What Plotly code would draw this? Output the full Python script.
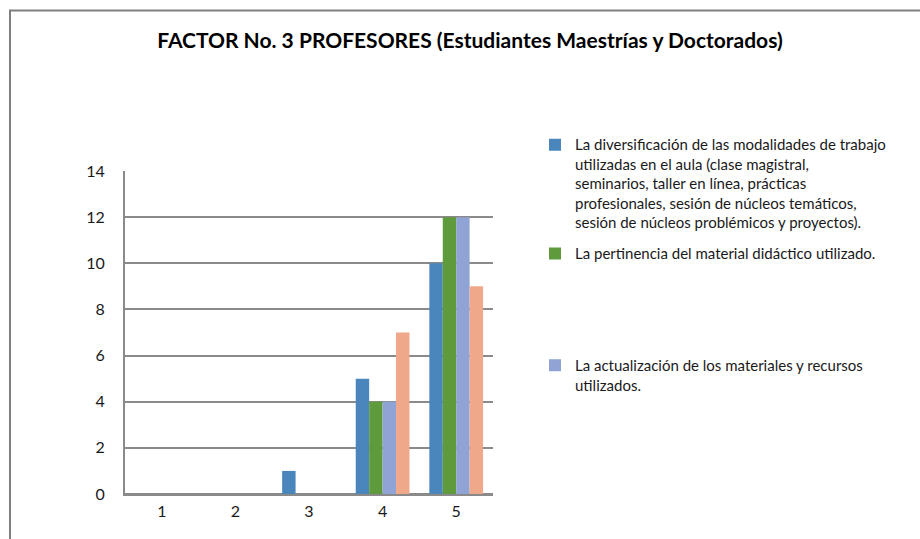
import plotly.graph_objects as go

categories = ["1", "2", "3", "4", "5"]
serie_diversificacion = [0, 0, 1, 5, 10]
serie_pertinencia = [0, 0, 0, 4, 12]
serie_actualizacion = [0, 0, 0, 4, 12]
serie_cuarta = [0, 0, 0, 7, 9]

name1 = ("La diversificación de las modalidades de trabajo<br>"
         "utilizadas en el aula (clase magistral,<br>"
         "seminarios, taller en línea, prácticas<br>"
         "profesionales, sesión de núcleos temáticos,<br>"
         "sesión de núcleos problémicos y proyectos).")
name2 = "La pertinencia del material didáctico utilizado."
name3 = "La actualización de los materiales y recursos<br>utilizados."
name4 = "Serie 4"

colors = ["#4A86BC", "#5F9A3D", "#8FA4D5", "#F0A88A"]

W, H = 920, 539
L, R, T, B = 125, 493, 170.7, 494.3
pw, ph = R - L, B - T

def px_x(x):
    return (x - L) / pw

def px_y(y):
    return (B - y) / ph

fig = go.Figure()
fig.add_trace(go.Bar(x=categories, y=serie_diversificacion, name=name1,
                     marker=dict(color=colors[0]), legend="legend"))
fig.add_trace(go.Bar(x=categories, y=serie_pertinencia, name=name2,
                     marker=dict(color=colors[1]), legend="legend2"))
fig.add_trace(go.Bar(x=categories, y=serie_actualizacion, name=name3,
                     marker=dict(color=colors[2]), legend="legend3"))
fig.add_trace(go.Bar(x=categories, y=serie_cuarta, name=name4, showlegend=False,
                     marker=dict(color=colors[3])))
fig.update_traces(marker_line_width=0)

font_family = "Lato, 'Open Sans', sans-serif"
leg_font = dict(family=font_family, size=15, color="#1a1a1a")

def legend_cfg(px_left, px_top):
    return dict(x=px_x(px_left), y=px_y(px_top), xanchor="left", yanchor="top",
                xref="paper", yref="paper", font=leg_font, valign="top",
                bgcolor="rgba(0,0,0,0)", borderwidth=0)

fig.update_layout(
    width=W, height=H,
    margin=dict(l=L, r=W - R, t=T, b=H - B, pad=0, autoexpand=False),
    paper_bgcolor="white", plot_bgcolor="white",
    barmode="group", bargap=0.27, bargroupgap=0,
    title=dict(text="<b>FACTOR No. 3 PROFESORES (Estudiantes Maestrías y Doctorados)</b>",
               x=470 / W, xanchor="center", xref="container",
               y=1 - 41 / H, yanchor="middle", yref="container",
               font=dict(family=font_family, size=21, color="#000000")),
    legend=legend_cfg(535, 128),
    legend2=legend_cfg(535, 237),
    legend3=legend_cfg(535, 349),
    xaxis=dict(type="category", showgrid=False, showline=True, linecolor="#8a8a8a",
               linewidth=2, ticks="", ticklabelstandoff=2,
               tickfont=dict(family=font_family, size=16, color="#1a1a1a")),
    yaxis=dict(range=[0, 14], dtick=2, showgrid=True, gridcolor="#8a8a8a", gridwidth=2,
               zeroline=True, zerolinecolor="#8a8a8a", zerolinewidth=2,
               showline=True, linecolor="#8a8a8a", linewidth=2, ticks="",
               ticklabelstandoff=15,
               tickfont=dict(family=font_family, size=16, color="#1a1a1a")),
    shapes=[dict(type="rect", xref="paper", yref="paper", layer="below",
                 x0=px_x(10), x1=px_x(960), y0=px_y(600), y1=px_y(10),
                 line=dict(color="#808080", width=2), fillcolor="rgba(0,0,0,0)")],
)

fig.write_html("out.html", config={"displayModeBar": False},
               post_script="document.body.style.margin='0';")
